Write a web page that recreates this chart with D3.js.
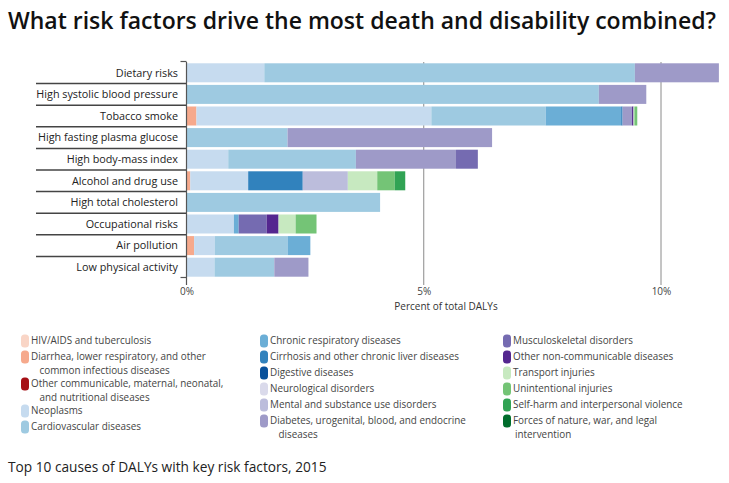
<!DOCTYPE html>
<html><head><meta charset="utf-8">
<script src="https://cdn.jsdelivr.net/npm/d3@7"></script>
<style>
body{margin:0;background:#fff}
svg text{font-family:"Open Sans",sans-serif}
</style>
</head><body>
<svg id="chart" width="729" height="483"></svg>
<script>
// ---------- DATA ----------
const riskFactors = ["Dietary risks","High systolic blood pressure","Tobacco smoke","High fasting plasma glucose","High body-mass index","Alcohol and drug use","High total cholesterol","Occupational risks","Air pollution","Low physical activity"];

const causes = ["HIV/AIDS and tuberculosis","Diarrhea, lower respiratory, and other common infectious diseases","Other communicable, maternal, neonatal, and nutritional diseases","Neoplasms","Cardiovascular diseases","Chronic respiratory diseases","Cirrhosis and other chronic liver diseases","Digestive diseases","Neurological disorders","Mental and substance use disorders","Diabetes, urogenital, blood, and endocrine diseases","Musculoskeletal disorders","Other non-communicable diseases","Transport injuries","Unintentional injuries","Self-harm and interpersonal violence","Forces of nature, war, and legal intervention"];

const legendLines = [["HIV/AIDS and tuberculosis"],["Diarrhea, lower respiratory, and other","common infectious diseases"],["Other communicable, maternal, neonatal,","and nutritional diseases"],["Neoplasms"],["Cardiovascular diseases"],["Chronic respiratory diseases"],["Cirrhosis and other chronic liver diseases"],["Digestive diseases"],["Neurological disorders"],["Mental and substance use disorders"],["Diabetes, urogenital, blood, and endocrine","diseases"],["Musculoskeletal disorders"],["Other non-communicable diseases"],["Transport injuries"],["Unintentional injuries"],["Self-harm and interpersonal violence"],["Forces of nature, war, and legal","intervention"]];

const causeColors = ["#f9d5c6","#f6a98c","#a50f15","#c6dbef","#9ecae1","#6baed6","#3182bd","#08519c","#dadaeb","#bcbddc","#9e9ac8","#756bb1","#54278f","#c7e9c0","#74c476","#31a354","#006d2c"];

// percent of total DALYs, one value per risk factor (same order as riskFactors)
const hivAids        = [0,0,0,0,0,0,0,0,0,0];
const diarrhea       = [0,0,0.21,0,0,0.08,0,0,0.16,0];
const otherComm      = [0,0,0,0,0,0,0,0,0,0];
const neoplasms      = [1.64,0,4.95,0,0.88,1.22,0,1.00,0.44,0.59];
const cardiovascular = [7.81,8.69,2.41,2.13,2.69,0,4.08,0,1.53,1.26];
const chronicResp    = [0,0,1.59,0,0,0,0,0.10,0.48,0];
const cirrhosis      = [0,0,0.03,0,0,1.15,0,0,0,0];
const digestive      = [0,0,0,0,0,0,0,0,0,0];
const neurological   = [0,0,0,0,0,0,0,0,0,0];
const mental         = [0,0,0,0,0,0.95,0,0,0,0];
const diabetes       = [1.77,1.00,0.20,4.31,2.11,0,0,0,0,0.72];
const musculoskeletal= [0,0,0,0,0.46,0,0,0.59,0,0];
const otherNcd       = [0,0,0.03,0,0,0,0,0.25,0,0];
const transport      = [0,0,0.02,0,0,0.62,0,0.36,0,0];
const unintentional  = [0,0,0.06,0,0,0.37,0,0.44,0,0];
const selfHarm       = [0,0,0,0,0,0.22,0,0,0,0];
const forces         = [0,0,0,0,0,0,0,0,0,0];

const xTicks = [0,5,10];
const xTickLabels = ["0%","5%","10%"];

// ---------- BUILD ----------
const seriesValues = [hivAids,diarrhea,otherComm,neoplasms,cardiovascular,chronicResp,cirrhosis,digestive,neurological,mental,diabetes,musculoskeletal,otherNcd,transport,unintentional,selfHarm,forces];
const rows = riskFactors.map((r,i)=>{const o={risk:r}; causes.forEach((c,j)=>o[c]=seriesValues[j][i]); return o;});
const stacked = d3.stack().keys(causes)(rows);

const svg = d3.select("#chart");
const x = d3.scaleLinear().domain([0,10]).range([186.5,661]);
const y = d3.scaleBand().domain(riskFactors).range([62,278]).paddingInner(0.12).paddingOuter(0.06);
const color = d3.scaleOrdinal().domain(causes).range(causeColors);

// title
svg.append("text").attr("x",8).attr("y",29).attr("font-size",23).attr("font-weight",600)
  .attr("fill","#111").text("What risk factors drive the most death and disability combined?");

// gridlines
svg.append("g").selectAll("line").data(xTicks.slice(1)).join("line")
  .attr("x1",d=>x(d)).attr("x2",d=>x(d)).attr("y1",62).attr("y2",285)
  .attr("stroke","#8a8a8a").attr("stroke-width",1);

// bars
svg.append("g").selectAll("g").data(stacked).join("g").attr("fill",d=>color(d.key))
  .selectAll("rect").data(d=>d.filter(s=>s[1]-s[0]>0)).join("rect")
  .attr("x",d=>x(d[0])).attr("width",d=>x(d[1])-x(d[0]))
  .attr("y",d=>y(d.data.risk)).attr("height",y.bandwidth());

// category separators
const bounds = d3.range(1,riskFactors.length).map(i=>y.range()[0]+i*y.step());
svg.append("g").selectAll("line").data(bounds).join("line")
  .attr("x1",36).attr("x2",x(0)).attr("y1",d=>d).attr("y2",d=>d)
  .attr("stroke","#444").attr("stroke-width",1.5);

// left axis line and end ticks
svg.append("line").attr("x1",x(0)).attr("x2",x(0)).attr("y1",62).attr("y2",285).attr("stroke","#555").attr("stroke-width",1.2);
svg.append("g").selectAll("line").data(y.range()).join("line")
  .attr("x1",x(0)-6).attr("x2",x(0)).attr("y1",d=>d-0.5).attr("y2",d=>d-0.5).attr("stroke","#555").attr("stroke-width",1.2);

// category labels
svg.append("g").selectAll("text").data(riskFactors).join("text")
  .attr("x",178).attr("y",d=>y(d)+y.bandwidth()/2).attr("dy","0.35em")
  .attr("text-anchor","end").attr("font-size",10.8).attr("fill","#222").text(d=>d);

// x axis
const xAxis = d3.axisBottom(x).tickValues(xTicks).tickFormat((d,i)=>xTickLabels[i]).tickSize(0).tickPadding(0);
const gx = svg.append("g").attr("transform","translate(0,288)").call(xAxis);
gx.select(".domain").remove();
gx.selectAll("text").attr("font-size",10).attr("fill","#444").attr("dy","0.71em").style("font-family","'Open Sans',sans-serif");
svg.append("text").attr("x",446).attr("y",310).attr("text-anchor","middle").attr("font-size",10).attr("fill","#333").text("Percent of total DALYs");

// legend
const colX = [21,260,503];
const colItems = [[0,1,2,3,4],[5,6,7,8,9,10],[11,12,13,14,15,16]];
const lineGap = 13.5;
const lg = svg.append("g");
colItems.forEach((items,ci)=>{
  let cy = 341;
  items.forEach(k=>{
    const lines = legendLines[k];
    lg.append("rect").attr("x",colX[ci]).attr("y",cy-6.5).attr("width",8).attr("height",13).attr("rx",3.5).attr("fill",causeColors[k]);
    lines.forEach((ln,li)=>{
      lg.append("text").attr("x",colX[ci]+10+(li>0?(ci===2?2:8.5):0))
        .attr("y",cy+li*lineGap).attr("dy","0.35em")
        .attr("font-size",9.9).attr("fill","#444").text(ln);
    });
    cy += lines.length>1 ? 27 : 16;
  });
});

// footnote
svg.append("text").attr("x",8).attr("y",467).attr("dy","0.35em").attr("font-size",13.7).attr("fill","#222")
  .text("Top 10 causes of DALYs with key risk factors, 2015");
</script>
</body></html>
